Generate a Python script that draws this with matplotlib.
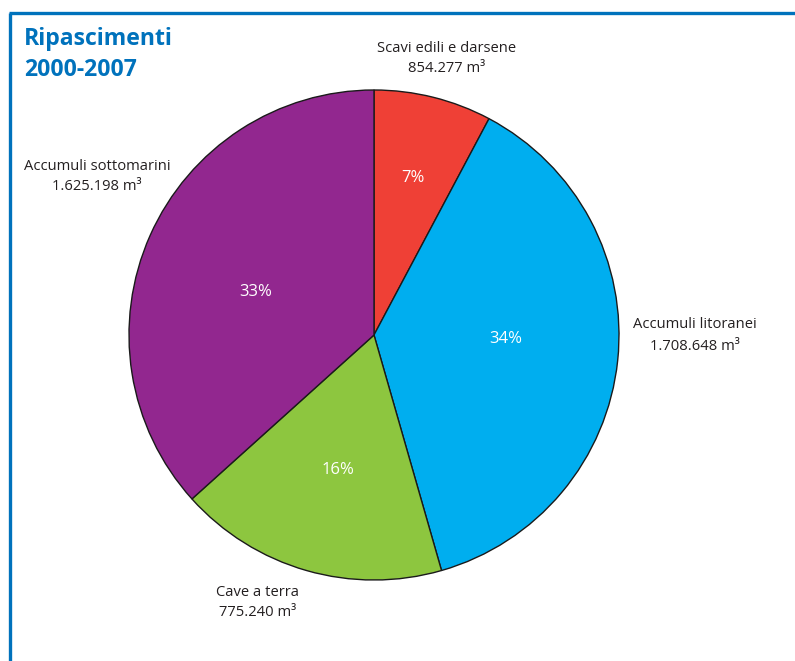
import matplotlib
matplotlib.use("Agg")
import matplotlib.pyplot as plt
from matplotlib.lines import Line2D

# Data
categories = ["Scavi edili e darsene", "Accumuli litoranei", "Cave a terra", "Accumuli sottomarini"]
percentages = [7, 34, 16, 33]
volumes = ["854.277", "1.708.648", "775.240", "1.625.198"]
colors = ["#EF4036", "#00AEEF", "#8DC63F", "#92278F"]

W, H = 795, 661
fig = plt.figure(figsize=(W / 100, H / 100), dpi=100)
ax = fig.add_axes([0, 0, 1, 1])

cx, cy, r = 374, H - 335, 245
wedges, _ = ax.pie(percentages, colors=colors, startangle=90, counterclock=False,
                   center=(cx, cy), radius=r, frame=True,
                   wedgeprops=dict(edgecolor="#1a1a1a", linewidth=1.0))
ax.set_xlim(0, W)
ax.set_ylim(0, H)
ax.set_aspect("equal")
ax.axis("off")

font = "Open Sans"
# percentage labels (pixel positions, y from top)
pct_pos = [(413, 178), (506, 339), (338, 470), (256, 292)]
for p, (x, y) in zip(percentages, pct_pos):
    ax.text(x, H - y, f"{p}%", color="white", fontsize=12, family=font,
            ha="center", va="center")

# outer labels
lab_pos = [(447, 48), (695, 325), (258, 592), (97, 166)]
for c, v, (x, y) in zip(categories, volumes, lab_pos):
    ax.text(x, H - y, c, fontsize=10.6, family=font, color="#231F20", ha="center", va="center")
    ax.text(x, H - y - 21, f"{v} m³", fontsize=10.6, family=font, color="#231F20",
            ha="center", va="center")

# title
ax.text(24, H - 39, "Ripascimenti", fontsize=16.6, family=font, fontweight="bold",
        color="#0072BC", ha="left", va="center")
ax.text(24, H - 70, "2000-2007", fontsize=16.6, family=font, fontweight="bold",
        color="#0072BC", ha="left", va="center")

# border lines
ax.add_line(Line2D([9, W], [H - 12.5, H - 12.5], color="#0072BC", linewidth=2.4,
                   solid_capstyle="butt"))
ax.add_line(Line2D([9.5, 9.5], [0, H - 12.5], color="#0072BC", linewidth=2.4,
                   solid_capstyle="butt"))

fig.savefig("out.png", dpi=100)
